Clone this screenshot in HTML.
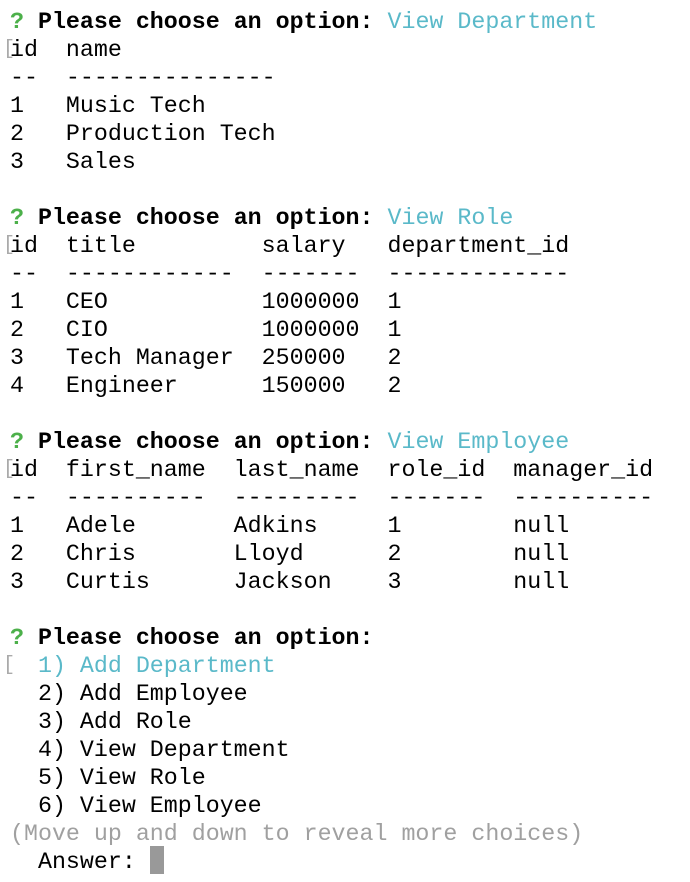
<!DOCTYPE html>
<html><head><meta charset="utf-8"><style>
html,body{margin:0;padding:0;background:#fff;width:690px;height:882px;overflow:hidden}
pre{position:absolute;left:10px;top:8px;margin:0;font-family:"Liberation Mono",monospace;font-size:23.3px;line-height:28px;color:#000;letter-spacing:0}
b{font-weight:bold}
.g{color:#4cb04a;font-weight:bold}
.c{color:#5ab9c9}
.gr{color:#a0a0a0}
.br{position:absolute;left:3px;color:#aaa;font-family:"Liberation Mono",monospace;font-size:20px;line-height:28px}
.cur{position:absolute;left:150px;top:846px;width:14px;height:28px;background:#999}
</style></head><body>
<span class="br" style="top:36px">[</span>
<span class="br" style="top:232px">[</span>
<span class="br" style="top:456px">[</span>
<span class="br" style="top:652px">[</span>
<pre><span class="g">?</span> <b>Please choose an option:</b> <span class="c">View Department</span>
id  name
--  ---------------
1   Music Tech
2   Production Tech
3   Sales

<span class="g">?</span> <b>Please choose an option:</b> <span class="c">View Role</span>
id  title         salary   department_id
--  ------------  -------  -------------
1   CEO           1000000  1
2   CIO           1000000  1
3   Tech Manager  250000   2
4   Engineer      150000   2

<span class="g">?</span> <b>Please choose an option:</b> <span class="c">View Employee</span>
id  first_name  last_name  role_id  manager_id
--  ----------  ---------  -------  ----------
1   Adele       Adkins     1        null
2   Chris       Lloyd      2        null
3   Curtis      Jackson    3        null

<span class="g">?</span> <b>Please choose an option:</b>
  <span class="c">1) Add Department</span>
  2) Add Employee
  3) Add Role
  4) View Department
  5) View Role
  6) View Employee
<span class="gr">(Move up and down to reveal more choices)</span>
  Answer: </pre>
<div class="cur"></div>
</body></html>
